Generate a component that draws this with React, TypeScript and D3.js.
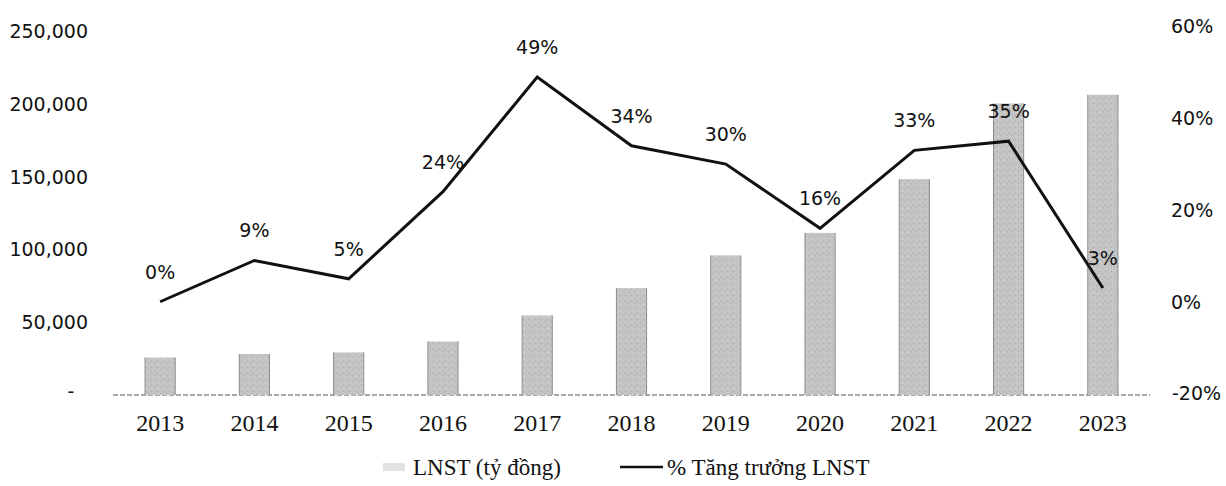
import React from "react";
import * as d3 from "d3";

const years = ["2013","2014","2015","2016","2017","2018","2019","2020","2021","2022","2023"];
const profit = [25800, 28200, 29300, 36800, 54700, 73500, 96000, 111500, 148500, 200500, 206500];
const growth = [0, 9, 5, 24, 49, 34, 30, 16, 33, 35, 3];
const leftTicks = [0, 50000, 100000, 150000, 200000, 250000];
const rightTicks = [-20, 0, 20, 40, 60];
const legendBar = "LNST (tỷ đồng)";
const legendLine = "% Tăng trưởng LNST";

const W = 1226, H = 486;
const sans = "'DejaVu Sans', sans-serif";
const serif = "'Liberation Serif', 'Times New Roman', serif";

export default function App() {
  const x = d3.scaleBand<string>().domain(years).range([113, 1150]).paddingInner(0.68).paddingOuter(0.34);
  const yL = d3.scaleLinear().domain([0, 250000]).range([395, 31.5]);
  const yR = d3.scaleLinear().domain([-20, 60]).range([393.5, 26.5]);
  const cx = (y: string) => (x(y) as number) + x.bandwidth() / 2;
  const line = d3.line<number>().x((_, i) => cx(years[i])).y((d) => yR(d));
  const fmt = d3.format(",");

  return (
    <svg width={W} height={H} style={{ position: "absolute", left: 0, top: 0, background: "#fff" }}>
      <defs>
        <pattern id="speck" width="6" height="6" patternUnits="userSpaceOnUse">
          <rect width="6" height="6" fill="#c4c4c4" />
          <rect x="1" y="1" width="1" height="1" fill="#a6a6a6" />
          <rect x="4" y="3" width="1" height="1" fill="#adadad" />
          <rect x="2" y="4" width="1" height="1" fill="#d8d8d8" />
        </pattern>
      </defs>
      <rect width={W} height={H} fill="#fff" />
      {/* baseline */}
      <line x1={113} x2={1150} y1={yL(0)} y2={yL(0)} stroke="#8a8a8a" strokeWidth={1.5} strokeDasharray="5 2" />
      {/* bars */}
      {years.map((yr, i) => (
        <g key={yr}>
          <rect x={x(yr)} y={yL(profit[i])} width={x.bandwidth()} height={yL(0) - yL(profit[i])} fill="url(#speck)" />
          <line x1={x(yr)} x2={x(yr)} y1={yL(profit[i])} y2={yL(0)} stroke="#8c8c8c" strokeWidth={1} />
          <line x1={(x(yr) as number) + x.bandwidth()} x2={(x(yr) as number) + x.bandwidth()} y1={yL(profit[i])} y2={yL(0)} stroke="#8c8c8c" strokeWidth={1} />
        </g>
      ))}
      {/* line */}
      <path d={line(growth) || ""} fill="none" stroke="#111" strokeWidth={3} strokeLinejoin="miter" />
      {/* data labels */}
      {years.map((yr, i) => (
        <text key={"l" + yr} x={cx(yr)} y={yR(growth[i]) - 23} textAnchor="middle" fontFamily={sans} fontSize={19} fill="#111">
          {growth[i] + "%"}
        </text>
      ))}
      {/* left axis */}
      {leftTicks.map((t) => (
        t === 0 ? (
          <text key={t} x={71} y={yL(t) + 3} textAnchor="middle" fontFamily={sans} fontSize={19} fill="#111">-</text>
        ) : (
          <text key={t} x={88} y={yL(t)} dy="0.36em" textAnchor="end" fontFamily={sans} fontSize={19} fill="#111">{fmt(t)}</text>
        )
      ))}
      {/* right axis */}
      {rightTicks.map((t) => (
        <text key={t} x={t < 0 ? 1172 : 1171} y={yR(t)} dy="0.36em" textAnchor="start" fontFamily={sans} fontSize={19} fill="#111">{t + "%"}</text>
      ))}
      {/* x axis labels */}
      {years.map((yr) => (
        <text key={"x" + yr} x={cx(yr)} y={431} textAnchor="middle" fontFamily={serif} fontSize={24} fill="#111">{yr}</text>
      ))}
      {/* legend */}
      <rect x={383} y={463} width={22} height={8} fill="#e2e2e2" />
      <text x={413} y={475} fontFamily={serif} fontSize={23} fill="#111">{legendBar}</text>
      <line x1={620} x2={663} y1={467} y2={467} stroke="#111" strokeWidth={2.5} />
      <text x={667} y={475} fontFamily={serif} fontSize={23} fill="#111">{legendLine}</text>
    </svg>
  );
}
